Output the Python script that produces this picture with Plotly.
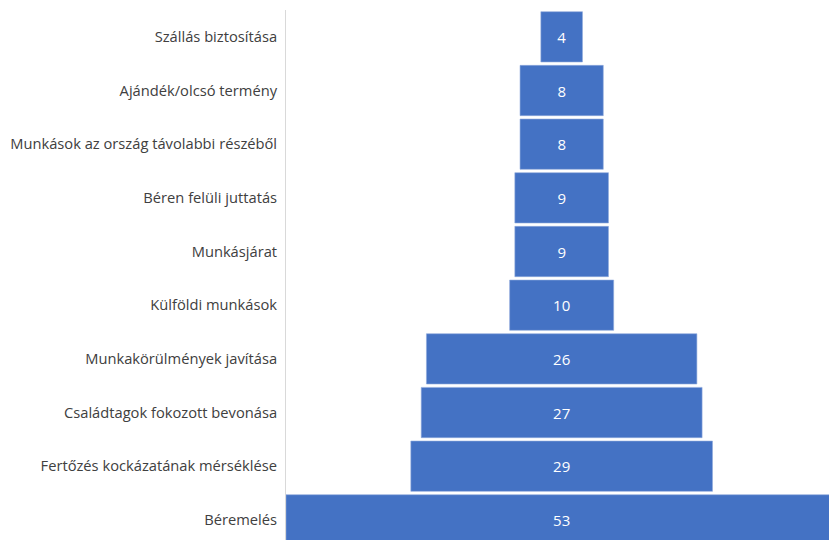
import plotly.graph_objects as go

categories = [
    "Szállás biztosítása",
    "Ajándék/olcsó termény",
    "Munkások az ország távolabbi részéből",
    "Béren felüli juttatás",
    "Munkásjárat",
    "Külföldi munkások",
    "Munkakörülmények javítása",
    "Családtagok fokozott bevonása",
    "Fertőzés kockázatának mérséklése",
    "Béremelés",
]
values = [4, 8, 8, 9, 9, 10, 26, 27, 29, 53]

FONT = "Open Sans"

fig = go.Figure(
    go.Funnel(
        y=categories,
        x=values,
        textinfo="value",
        textposition="inside",
        insidetextfont=dict(color="white", size=15, family=FONT),
        marker=dict(color="#4472C4", line=dict(color="#8FAADC", width=0.6)),
        connector=dict(visible=False),
        cliponaxis=True,
        hoverinfo="skip",
    )
)

fig.update_layout(
    width=829,
    height=540,
    margin=dict(l=286, r=0, t=10, b=0),
    paper_bgcolor="white",
    plot_bgcolor="white",
    funnelgap=0.063,
    showlegend=False,
    font=dict(family=FONT, size=14.7, color="#404040"),
    xaxis=dict(range=[-26.5, 25.7], visible=False, fixedrange=True),
    yaxis=dict(
        range=[9.375, -0.5],
        showline=True,
        linecolor="#D9D9D9",
        linewidth=1,
        showgrid=False,
        ticks="",
        ticklabelstandoff=5,
        tickfont=dict(family=FONT, size=14.7, color="#404040"),
        fixedrange=True,
    ),
)

fig.write_html(
    "out.html",
    config={"displayModeBar": False},
    post_script="document.body.style.margin='0';document.body.style.overflow='hidden';",
)
